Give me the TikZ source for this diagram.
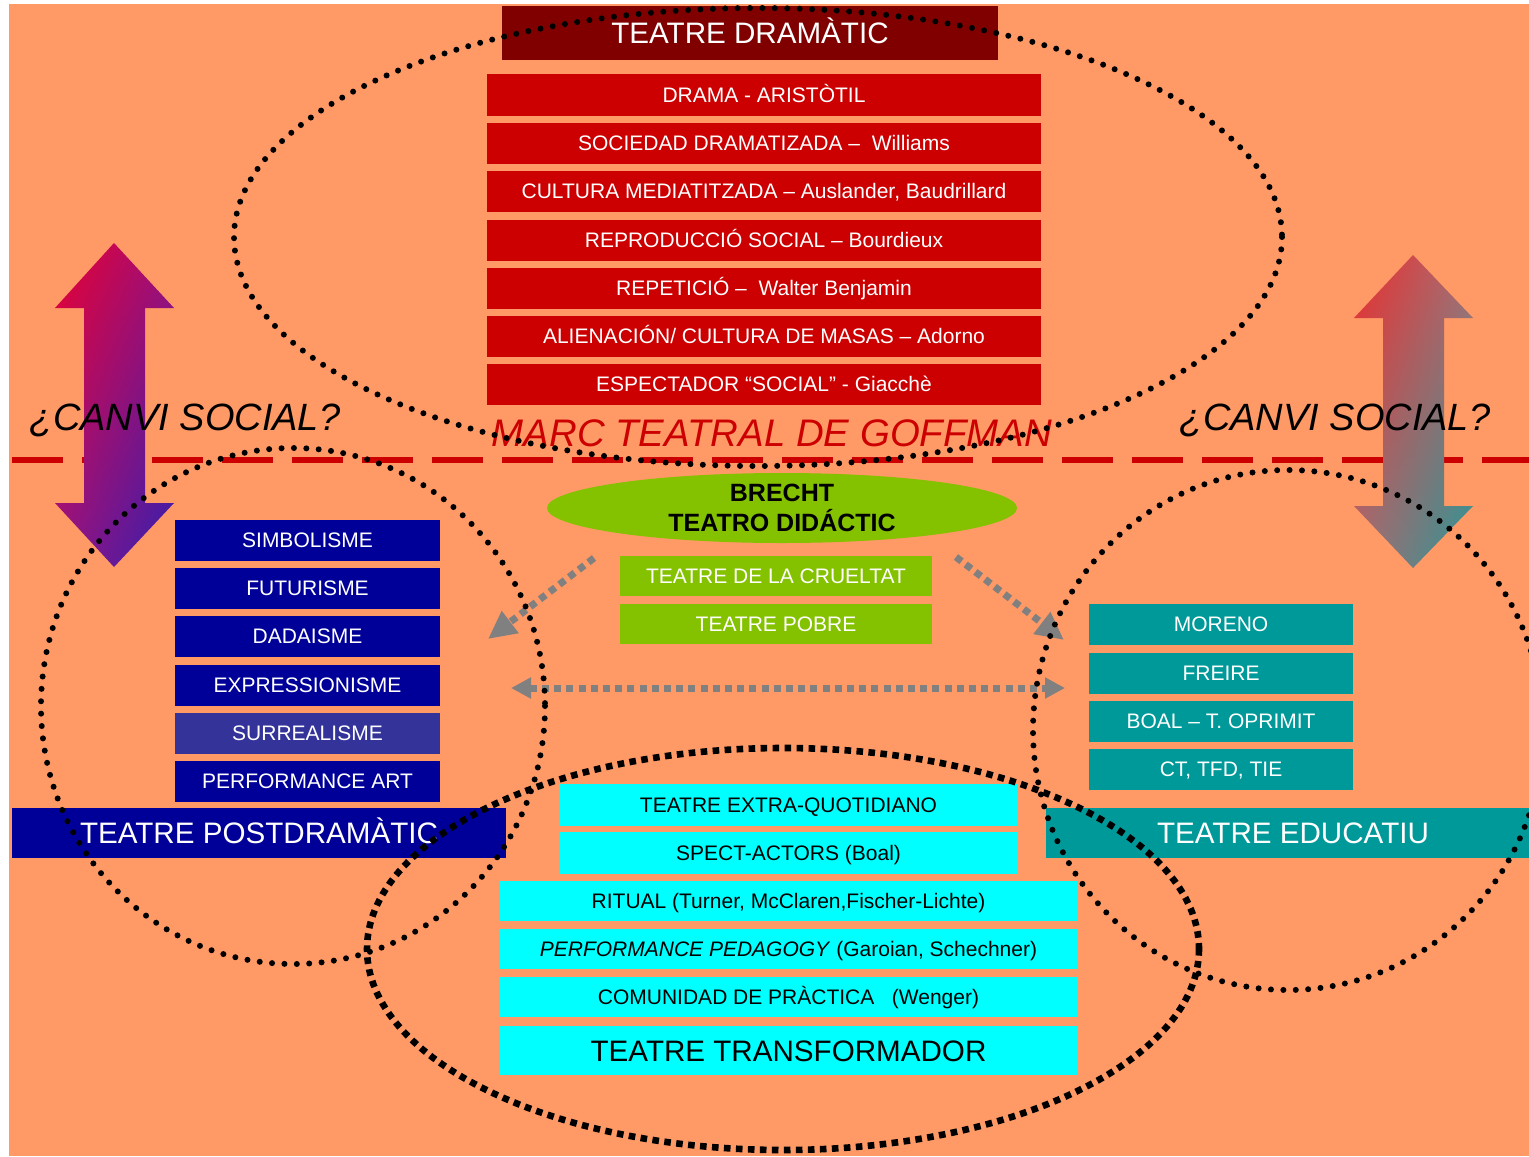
\documentclass[tikz,border=0pt]{standalone}
\usepackage{fontspec}
\setmainfont{Liberation Sans}
\usepackage{xcolor}
\usepackage{tikz}
\usetikzlibrary{arrows.meta,shapes.geometric,shadings}
\definecolor{fons}{RGB}{255,153,102}
\definecolor{granat}{RGB}{128,0,0}
\definecolor{vermell}{RGB}{204,0,0}
\definecolor{blaufosc}{RGB}{0,0,153}
\definecolor{blaumig}{RGB}{51,51,153}
\definecolor{verd}{RGB}{132,194,0}
\definecolor{teal}{RGB}{0,153,153}
\definecolor{cian}{RGB}{0,255,255}
\definecolor{gris}{RGB}{128,128,128}
% colors de les fletxes
\definecolor{esqa}{RGB}{232,0,48}
\definecolor{esqb}{RGB}{160,15,120}
\definecolor{esqc}{RGB}{150,20,130}
\definecolor{esqd}{RGB}{50,30,175}
\definecolor{dreta}{RGB}{235,45,45}
\definecolor{dretb}{RGB}{170,110,115}
\definecolor{dretc}{RGB}{165,110,115}
\definecolor{dretd}{RGB}{40,150,150}
\tikzset{
  box/.style={inner sep=0pt,text height=7.6pt,text depth=0pt,font=\fontsize{10.5}{12}\selectfont},
  bigbox/.style={inner sep=0pt,text height=10.6pt,text depth=0pt,font=\fontsize{14.8}{17}\selectfont},
  redbox/.style={box,fill=vermell,text=white,minimum width=277pt,minimum height=20.5pt},
  bluebox/.style={box,fill=blaufosc,text=white,minimum width=132.5pt,minimum height=20.5pt},
  tealbox/.style={box,fill=teal,text=white,minimum width=132pt,minimum height=20.5pt},
  greenbox/.style={box,fill=verd,text=white,minimum width=156pt,minimum height=20pt},
  cyanbox/.style={box,fill=cian,text=black,minimum width=228.5pt,minimum height=21pt},
  widecyanbox/.style={box,fill=cian,text=black,minimum width=288.5pt,minimum height=20pt},
  question/.style={font=\fontsize{19}{22}\selectfont\itshape},
  roundots/.style={line width=3pt,line cap=round,dash pattern=on 0pt off 6.2pt},
  squaredots/.style={line width=3.3pt,dash pattern=on 3.3pt off 2.7pt},
  grayarrow/.style={draw=gris,line width=3.5pt,dash pattern=on 3.5pt off 2.6pt}
}
\begin{document}
\begin{tikzpicture}[x=0.5pt,y=-0.5pt]
  \useasboundingbox (0,0) rectangle (1529,1156);
  \fill[white] (0,0) rectangle (1529,1156);
  \fill[fons] (9,4) rectangle (1529,1156);
  \draw[vermell,line width=3pt,dash pattern=on 25.5pt off 9.5pt] (12,460) -- (1529,460);
  % fletxes de canvi social
  \shade[upper left=esqa,upper right=esqb,lower left=esqc,lower right=esqd]
    (114,243) -- (174,308) -- (145,308) -- (145,503) -- (174,503) -- (114,567)
    -- (55,503) -- (84,503) -- (84,308) -- (55,308) -- cycle;
  \shade[upper left=dreta,upper right=dretb,lower left=dretc,lower right=dretd]
    (1413,255) -- (1473,318) -- (1444,318) -- (1444,506) -- (1473,506) -- (1413,568)
    -- (1354,506) -- (1383,506) -- (1383,318) -- (1354,318) -- cycle;
  \node[question] (canvil) at (185,420) {¿CANVI SOCIAL?};
  \node[question] (canvir) at (1335,420) {¿CANVI SOCIAL?};
  % teatre dramatic
  \node[bigbox,fill=granat,text=white,minimum width=248pt,minimum height=27pt] (dramatic) at (750,33) {TEATRE DRAMÀTIC};
  \node[redbox] (r1) at (764,95) {DRAMA - ARISTÒTIL};
  \node[redbox] (r2) at (764,143) {SOCIEDAD DRAMATIZADA –\ \ Williams};
  \node[redbox] (r3) at (764,191) {CULTURA MEDIATITZADA – Auslander, Baudrillard};
  \node[redbox] (r4) at (764,240) {REPRODUCCIÓ SOCIAL – Bourdieux};
  \node[redbox] (r5) at (764,288) {REPETICIÓ –\ \ Walter Benjamin};
  \node[redbox] (r6) at (764,336) {ALIENACIÓN/ CULTURA DE MASAS – Adorno};
  \node[redbox] (r7) at (764,384) {ESPECTADOR “SOCIAL” - Giacchè};
  \node[text=vermell,font=\fontsize{19.2}{22}\selectfont\itshape] (goffman) at (772,433) {MARC TEATRAL DE GOFFMAN};
  % brecht
  \node[ellipse,fill=verd,inner sep=0pt,minimum width=235pt,minimum height=35pt,align=center,
    font=\fontsize{12.5}{15}\selectfont\bfseries] (brecht) at (782,508) {BRECHT\\ TEATRO DIDÁCTIC};
  \node[greenbox] (g1) at (776,576) {TEATRE DE LA CRUELTAT};
  \node[greenbox] (g2) at (776,624) {TEATRE POBRE};
  % postdramatic
  \node[bluebox] (b1) at (307.5,540) {SIMBOLISME};
  \node[bluebox] (b2) at (307.5,588) {FUTURISME};
  \node[bluebox] (b3) at (307.5,636) {DADAISME};
  \node[bluebox] (b4) at (307.5,685) {EXPRESSIONISME};
  \node[bluebox,fill=blaumig] (b5) at (307.5,733) {SURREALISME};
  \node[bluebox] (b6) at (307.5,781) {PERFORMANCE ART};
  \node[bigbox,fill=blaufosc,text=white,minimum width=247pt,minimum height=25pt] (postdram) at (259,833) {TEATRE POSTDRAMÀTIC};
  % educatiu
  \node[tealbox] (t1) at (1221,624) {MORENO};
  \node[tealbox] (t2) at (1221,673) {FREIRE};
  \node[tealbox] (t3) at (1221,721) {BOAL – T. OPRIMIT};
  \node[tealbox] (t4) at (1221,769) {CT, TFD, TIE};
  \node[bigbox,fill=teal,text=white,minimum width=247pt,minimum height=25pt] (educatiu) at (1293,833) {TEATRE EDUCATIU};
  % transformador
  \node[cyanbox] (c1) at (788.5,805) {TEATRE EXTRA-QUOTIDIANO};
  \node[cyanbox] (c2) at (788.5,853) {SPECT-ACTORS (Boal)};
  \node[widecyanbox] (c3) at (788.5,901) {RITUAL (Turner, McClaren,Fischer-Lichte)};
  \node[widecyanbox] (c4) at (788.5,949) {\textit{PERFORMANCE PEDAGOGY} (Garoian, Schechner)};
  \node[widecyanbox] (c5) at (788.5,997) {COMUNIDAD DE PRÀCTICA\ \ \ (Wenger)};
  \node[bigbox,fill=cian,text=black,minimum width=288.5pt,minimum height=24.5pt] (transf) at (788.5,1050.5) {TEATRE TRANSFORMADOR};
  % fletxes grises
  \coordinate (dl0) at (594,558);
  \coordinate (dl1) at (488,639);
  \coordinate (dr0) at (956,557);
  \coordinate (dr1) at (1064,640);
  \coordinate (hl) at (511,688);
  \coordinate (hr) at (1065,688);
  \draw[grayarrow,-{Triangle[length=14pt,width=13pt]}] (dl0) -- (dl1);
  \draw[grayarrow,-{Triangle[length=14pt,width=13pt]}] (dr0) -- (dr1);
  \draw[grayarrow,{Triangle[length=10pt,width=10pt]}-{Triangle[length=10pt,width=10pt]}] (hl) -- (hr);
  % el·lipses
  \draw[roundots] (758,237) ellipse (524 and 229);
  \draw[roundots] (293,706) ellipse (252 and 258);
  \draw[roundots] (1288,730) ellipse (255 and 260);
  \draw[squaredots] (783,949) ellipse (416 and 201);
\end{tikzpicture}
\end{document}
